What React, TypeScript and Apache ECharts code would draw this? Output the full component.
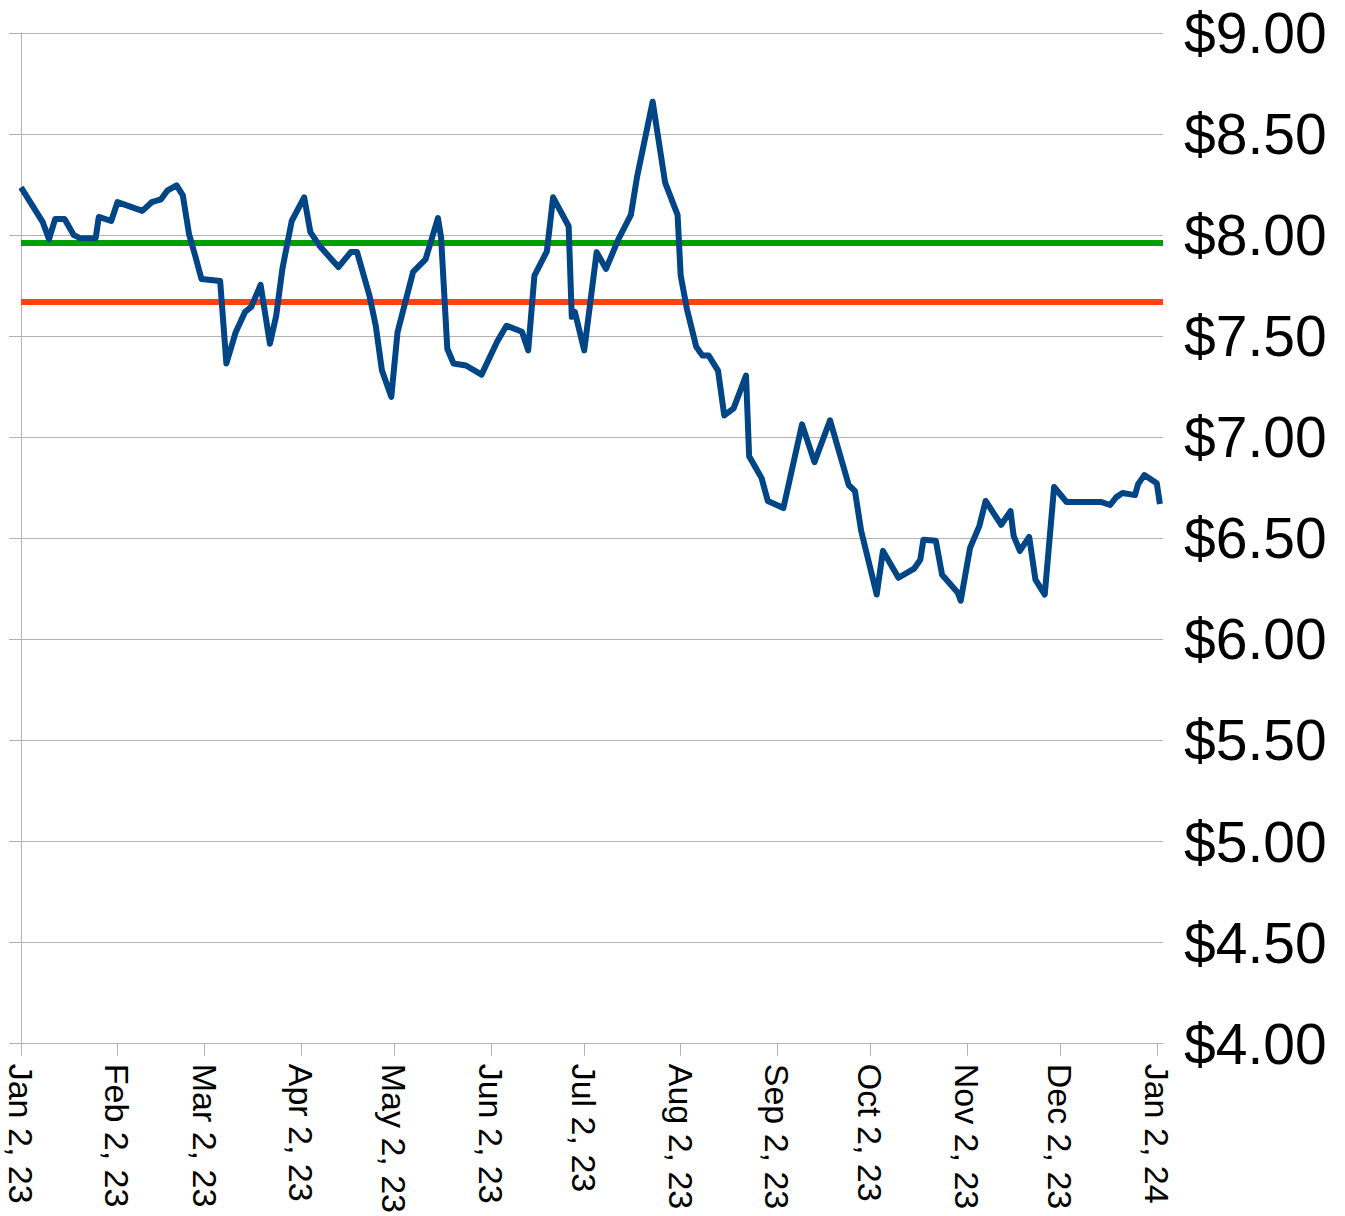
import React, { useEffect, useRef } from "react";
import * as echarts from "echarts";

// Day offsets from Jan 2, 2023 and closing prices
const baseYear = 2023;
const baseMonth = 0;
const baseDay = 2;
const dayOffsets = [
  0, 7, 9, 11, 14, 17, 19, 24, 25, 29, 31, 39, 42, 45, 47, 50, 52, 54, 56, 58,
  64, 66, 69, 72, 74, 77, 80, 82, 84, 87, 91, 93, 96, 102, 106, 108, 112, 114, 116, 119,
  121, 126, 130, 134, 135, 137, 139, 143, 148, 153, 156, 161, 163, 165, 169, 171, 176, 177, 178, 181,
  185, 188, 192, 196, 198, 203, 207, 211, 212, 214, 217, 219, 221, 224, 226, 229, 233, 234, 238, 240,
  245, 251, 255, 260, 266, 268, 270, 275, 277, 282, 287, 289, 290, 294, 296, 301, 302, 305, 308, 310,
  315, 318, 319, 321, 324, 326, 329, 332, 336, 347, 350, 352, 354, 358, 359, 361, 365, 366,
];
const prices = [
  8.236, 8.064, 7.98, 8.08, 8.08, 8.0, 7.985, 7.985, 8.09, 8.07, 8.163, 8.12, 8.163, 8.177, 8.22, 8.246, 8.197, 8.005, 7.897, 7.783,
  7.773, 7.365, 7.52, 7.62, 7.645, 7.754, 7.463, 7.6, 7.833, 8.07, 8.187, 8.015, 7.946, 7.842, 7.916, 7.916, 7.7, 7.552, 7.33, 7.2,
  7.52, 7.818, 7.88, 8.084, 7.99, 7.438, 7.365, 7.355, 7.31, 7.473, 7.552, 7.522, 7.43, 7.8, 7.92, 8.187, 8.044, 7.596, 7.62, 7.43,
  7.916, 7.833, 7.98, 8.1, 8.29, 8.66, 8.26, 8.1, 7.8, 7.635, 7.448, 7.404, 7.404, 7.33, 7.108, 7.143, 7.305, 6.906, 6.798, 6.685,
  6.65, 7.064, 6.877, 7.084, 6.764, 6.734, 6.537, 6.222, 6.438, 6.305, 6.35, 6.394, 6.493, 6.488, 6.32, 6.232, 6.192, 6.453, 6.562, 6.685,
  6.567, 6.635, 6.512, 6.438, 6.507, 6.296, 6.222, 6.754, 6.68, 6.68, 6.665, 6.704, 6.724, 6.714, 6.768, 6.813, 6.773, 6.67,
];
const greenLevel = 7.965;
const redLevel = 7.665;
const monthNames = ["Jan", "Feb", "Mar", "Apr", "May", "Jun", "Jul", "Aug", "Sep", "Oct", "Nov", "Dec"];
const tickMonths = [0, 1, 2, 3, 4, 5, 6, 7, 8, 9, 10, 11, 12];
const xMaxOffset = 367;
const yMin = 4;
const yMax = 9;
const yStep = 0.5;

const DAY = 86400000;
const base = new Date(baseYear, baseMonth, baseDay).getTime();
const offsetOfMonth = (m: number) => Math.round((new Date(baseYear, m, baseDay).getTime() - base) / DAY);

export default function App() {
  const ref = useRef<HTMLDivElement>(null);
  useEffect(() => {
    if (!ref.current) return;
    const chart = echarts.init(ref.current, null, { renderer: "svg" });
    const data = dayOffsets.map((d, i) => [d, prices[i]]);
    const ticks = tickMonths.map(offsetOfMonth);
    const gray = "#b3b3b3";
    chart.setOption({
      animation: false,
      backgroundColor: "#ffffff",
      grid: { left: 21, right: 182, top: 33, bottom: 168, containLabel: false },
      xAxis: {
        type: "value",
        min: 0,
        max: xMaxOffset,
        axisLine: { show: true, onZero: false, lineStyle: { color: gray, width: 1 } },
        axisTick: { show: true, length: 12, lineStyle: { color: gray }, customValues: ticks },
        splitLine: { show: false },
        axisLabel: {
          customValues: ticks,
          rotate: -90,
          fontSize: 34,
          color: "#000",
          fontFamily: "Liberation Sans, Arial, sans-serif",
          margin: 20,
          showMinLabel: true,
          showMaxLabel: true,
          formatter: (v: number) => {
            const d = new Date(base + Math.round(v) * DAY + DAY / 2);
            return `${monthNames[d.getMonth()]} ${d.getDate()}, ${String(d.getFullYear()).slice(2)}`;
          },
        },
      },
      yAxis: [
        {
          type: "value",
          position: "right",
          min: yMin,
          max: yMax,
          interval: yStep,
          axisLine: { show: true, lineStyle: { color: gray, width: 1 } },
          axisTick: { show: true, length: 12, lineStyle: { color: gray } },
          splitLine: { show: true, lineStyle: { color: gray, width: 1 } },
          axisLabel: {
            fontSize: 57,
            color: "#000",
            fontFamily: "Liberation Sans, Arial, sans-serif",
            margin: 21,
            formatter: (v: number) => "$" + v.toFixed(2),
          },
        },
        {
          type: "value",
          position: "left",
          min: yMin,
          max: yMax,
          interval: yStep,
          axisLine: { show: true, lineStyle: { color: gray, width: 1 } },
          axisTick: { show: true, length: 12, lineStyle: { color: gray } },
          splitLine: { show: false },
          axisLabel: { show: false },
        },
      ],
      series: [
        {
          type: "line",
          data,
          yAxisIndex: 0,
          showSymbol: false,
          symbol: "none",
          lineStyle: { color: "#004586", width: 6, join: "round" },
          z: 3,
          markLine: {
            silent: true,
            symbol: "none",
            label: { show: false },
            z: 2,
            data: [
              { yAxis: greenLevel, lineStyle: { color: "#00a000", width: 6, type: "solid" } },
              { yAxis: redLevel, lineStyle: { color: "#ff420e", width: 6, type: "solid" } },
            ],
          },
        },
      ],
    });
    return () => chart.dispose();
  }, []);
  return <div ref={ref} style={{ position: "absolute", left: 0, top: 0, width: 1345, height: 1216 }} />;
}
